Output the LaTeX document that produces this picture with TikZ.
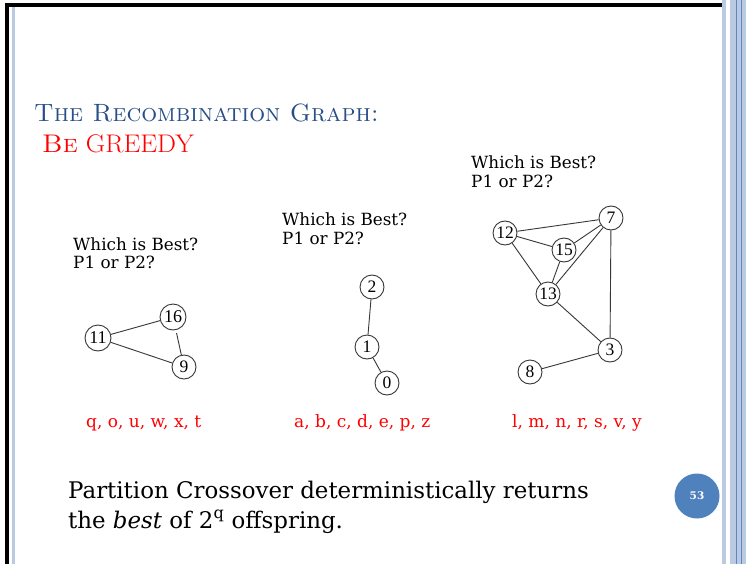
\documentclass[tikz,border=0pt]{standalone}
\usepackage{fontspec}
\newfontfamily\numfont{Liberation Serif}
\newfontfamily\slidefont{DejaVu Serif}
\definecolor{titleblue}{RGB}{40,78,135}
\definecolor{pageblue}{RGB}{79,129,189}
\definecolor{bandlight}{RGB}{185,202,226}
\definecolor{banddark}{RGB}{95,135,195}
\definecolor{edgegray}{RGB}{55,55,55}
\tikzset{
  vtx/.style={circle,draw=edgegray,line width=0.9pt,inner sep=0pt,minimum size=24pt,font=\numfont\fontsize{17.5}{17.5}\selectfont},
  bigvtx/.style={vtx,minimum size=26pt,font=\numfont\fontsize{18}{18}\selectfont},
  link/.style={draw=edgegray,line width=0.9pt},
  qtext/.style={anchor=base west,inner sep=0pt,font=\slidefont\fontsize{16.8}{20}\selectfont},
  listtext/.style={anchor=base west,inner sep=0pt,text=red,font=\slidefont\fontsize{17}{20}\selectfont},
  bodytext/.style={anchor=base west,inner sep=0pt,font=\slidefont\fontsize{22.9}{28}\selectfont},
}
\begin{document}
\begin{tikzpicture}[x=1pt,y=-1pt]
\useasboundingbox (0,0) rectangle (746,564);
\fill[white] (0,0) rectangle (746,564);
% frame
\fill[black] (5,3) rectangle (722.5,7);
\fill[black] (5,3) rectangle (8.5,564);
\fill[bandlight] (12,7) rectangle (15,564);
\fill[bandlight] (722,0) rectangle (725.5,564);
\fill[bandlight] (730,0) rectangle (746,564);
\fill[banddark] (735.5,0) rectangle (737,564);
\fill[banddark] (740.5,0) rectangle (742,564);
% title
\node[anchor=base west,inner sep=0pt,text=titleblue,font=\fontsize{25}{30}\selectfont] (title) at (34,122) {\textsc{The Recombination Graph:}};
\node[anchor=base west,inner sep=0pt,text=red,font=\fontsize{25.5}{30}\selectfont] (greedy) at (42,153) {\scalebox{1.05}[1]{\textsc{Be} GREEDY}};
% questions
\node[qtext] (qa1) at (73,250) {Which is Best?};
\node[qtext] (qb1) at (73,268) {P1 or P2?};
\node[qtext] (qa2) at (282,225) {Which is Best?};
\node[qtext] (qb2) at (282,244) {P1 or P2?};
\node[qtext] (qa3) at (471,168) {Which is Best?};
\node[qtext] (qb3) at (471,187) {P1 or P2?};
% graph 1
\node[bigvtx] (n11) at (98,338) {11};
\node[bigvtx] (n16) at (173,317) {16};
\node[vtx] (n9) at (184,367) {9};
\draw[link] (n11) -- (n16);
\draw[link] (n11) -- (n9);
\draw[link,shorten <=3pt] (n16) -- (n9);
% graph 2
\node[vtx] (n2) at (372,287) {2};
\node[vtx] (n1) at (367,347) {1};
\node[vtx] (n0) at (387,383) {0};
\draw[link] (n2) -- (n1);
\draw[link] (n1) -- (n0);
% graph 3
\node[vtx] (n7) at (611,218) {7};
\node[vtx] (n12) at (505,233) {12};
\node[vtx] (n15) at (564,250) {15};
\node[vtx] (n13) at (548,294) {13};
\node[vtx] (n3) at (610,350) {3};
\node[vtx] (n8) at (530,372) {8};
\draw[link] (n12) -- (n7);
\draw[link] (n12) -- (n15);
\draw[link] (n12) -- (n13);
\draw[link] (n15) -- (n7);
\draw[link] (n15) -- (n13);
\draw[link] (n13) -- (n7);
\draw[link] (n13) -- (n3);
\draw[link] (n7) -- (n3);
\draw[link] (n8) -- (n3);
% lists
\node[listtext] (l1) at (86,427) {q, o, u, w, x, t};
\node[listtext] (l2) at (294,427) {a, b, c, d, e, p, z};
\node[listtext] (l3) at (512,427) {l, m, n, r, s, v, y};
% body
\node[bodytext] (p1) at (68,498) {Partition Crossover deterministically returns};
\node[bodytext] (p2) at (68,528) {the \textit{best} of 2\textsuperscript{q} offspring.};
% page number
\node[circle,fill=pageblue,minimum size=45pt,inner sep=0pt,text=white,font=\slidefont\bfseries\fontsize{10.5}{10.5}\selectfont] (pg) at (697,496) {53};
\end{tikzpicture}
\end{document}
